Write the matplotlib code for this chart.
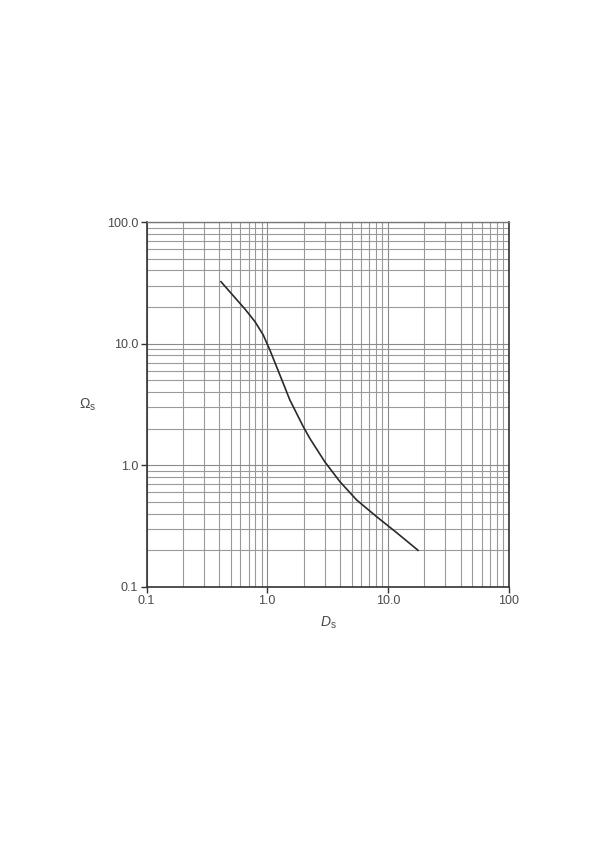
import matplotlib
matplotlib.use('Agg')
import matplotlib.pyplot as plt
from matplotlib.ticker import FixedLocator, FixedFormatter, LogLocator, NullFormatter

plt.rcParams['font.family'] = ['Liberation Sans', 'DejaVu Sans']
plt.rcParams['mathtext.fontset'] = 'custom'
plt.rcParams['mathtext.rm'] = 'Liberation Sans'
plt.rcParams['mathtext.it'] = 'Liberation Sans:italic'

# curve
ds = [0.414, 0.523, 0.653, 0.791, 0.927, 1.052, 1.196, 1.357, 1.54, 1.75, 1.99,
      2.26, 3.0, 4.0, 5.5, 8.05, 11.8, 17.8]
omega = [32.3, 24.8, 19.3, 15.2, 11.8, 8.87, 6.47, 4.73, 3.45, 2.68, 2.08,
         1.66, 1.07, 0.735, 0.52, 0.379, 0.28, 0.2]

xticks = [0.1, 1, 10, 100]
xlabels = ['0.1', '1.0', '10.0', '100']
yticks = [0.1, 1, 10, 100]
ylabels = ['0.1', '1.0', '10.0', '100.0']

txt = '#4a4a4a'
fig = plt.figure(figsize=(5.99, 8.48), dpi=100)
ax = fig.add_axes([0.2446, 0.3078, 0.6044, 0.4304])

ax.plot(ds, omega, color='#2a2a2a', lw=1.2, zorder=3)

ax.set_xscale('log')
ax.set_yscale('log')
ax.set_xlim(0.1, 100)
ax.set_ylim(0.1, 100)

for axis, ticks, labels in [(ax.xaxis, xticks, xlabels), (ax.yaxis, yticks, ylabels)]:
    axis.set_major_locator(FixedLocator(ticks))
    axis.set_major_formatter(FixedFormatter(labels))
    axis.set_minor_locator(LogLocator(base=10, subs=range(2, 10)))
    axis.set_minor_formatter(NullFormatter())

ax.grid(which='major', color='#8a8a8a', lw=0.8)
ax.grid(which='minor', color='#9a9a9a', lw=0.8)
ax.tick_params(which='major', direction='out', length=4, width=1, color='#333333',
               labelsize=9, labelcolor=txt, pad=2)
ax.tick_params(which='minor', length=0)
ax.spines['top'].set_color('#777777')
ax.spines['top'].set_linewidth(1)
for side in ['left', 'bottom', 'right']:
    ax.spines[side].set_color('#333333')
    ax.spines[side].set_linewidth(1.2)

fig.text(88 / 599, 1 - 405 / 848, r'$\Omega_\mathrm{s}$', ha='center', va='center',
         fontsize=10, color=txt)
fig.text(328 / 599, 1 - 623 / 848, r'$\mathit{D}_\mathrm{s}$', ha='center', va='center',
         fontsize=10, color=txt)

fig.savefig('out.png', dpi=100)
